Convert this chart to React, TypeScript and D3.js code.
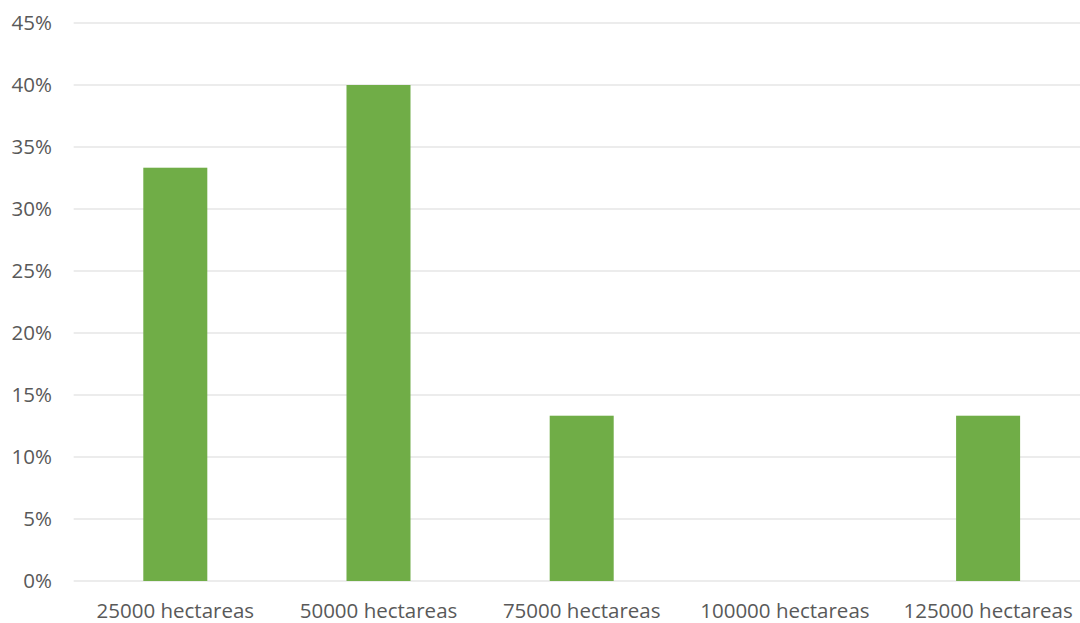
import React from "react";
import * as d3 from "d3";

const categories = ["25000 hectareas", "50000 hectareas", "75000 hectareas", "100000 hectareas", "125000 hectareas"];
const values = [0.3333, 0.4, 0.1333, 0, 0.1333];
const yTicks = [0, 0.05, 0.1, 0.15, 0.2, 0.25, 0.3, 0.35, 0.4, 0.45];

const W = 1080, H = 623;
const left = 73.7, right = 1089.7, top = 23, bottom = 581;

export default function App() {
  const x = d3.scaleBand<string>().domain(categories).range([left, right]).paddingInner(0.685).paddingOuter(0.3425);
  const y = d3.scaleLinear().domain([0, 0.45]).range([bottom, top]);
  const fmt = d3.format(".0%");
  const font = "'Open Sans', sans-serif";
  return (
    <svg width={W} height={H} style={{ position: "absolute", left: 0, top: 0, background: "#fff" }}>
      {yTicks.map((t) => (
        <g key={t}>
          <line x1={left} x2={W} y1={y(t)} y2={y(t)} stroke="#d9d9d9" strokeWidth={1} />
          <text x={52} y={y(t)} dy="0.35em" textAnchor="end" fontFamily={font} fontSize={20.5} fill="#595959">{fmt(t)}</text>
        </g>
      ))}
      {categories.map((c, i) => (
        <rect key={c} x={x(c)!} width={x.bandwidth()} y={y(values[i])} height={bottom - y(values[i])} fill="#70AD47" />
      ))}
      {categories.map((c) => (
        <text key={c} x={x(c)! + x.bandwidth() / 2} y={611} dy="0.35em" textAnchor="middle" fontFamily={font} fontSize={20.5} fill="#595959">{c}</text>
      ))}
    </svg>
  );
}
